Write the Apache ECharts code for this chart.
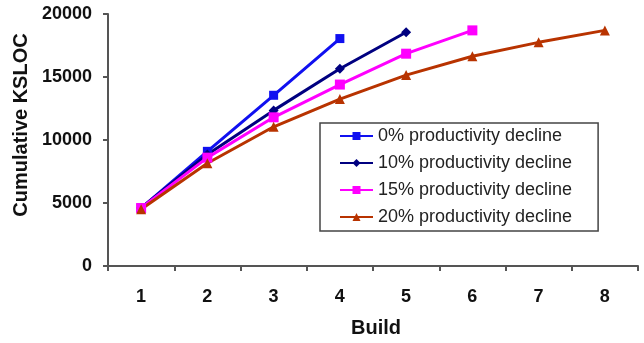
<!DOCTYPE html>
<html>
<head>
<meta charset="utf-8">
<script src="https://cdn.jsdelivr.net/npm/echarts@6/dist/echarts.min.js"></script>
<style>
html,body{margin:0;padding:0;background:#fff;}
#c{width:644px;height:343px;}
</style>
</head>
<body>
<div id="c"></div>
<script>
var builds = ['1','2','3','4','5','6','7','8'];
var seriesNames = ['0% productivity decline','10% productivity decline','15% productivity decline','20% productivity decline'];
var decline0 = [4600, 9100, 13550, 18050];
var decline10 = [4600, 8850, 12350, 15650, 18550];
var decline15 = [4600, 8600, 11800, 14400, 16850, 18700];
var decline20 = [4500, 8150, 11050, 13250, 15150, 16650, 17750, 18700];
var yTicks = [0, 5000, 10000, 15000, 20000];

var colors = ['#1010F0', '#000080', '#FF00FF', '#B83300'];
var symbols = ['rect', 'diamond', 'rect', 'triangle'];
var symbolSizes = [9, 10, 10, 10];
var dataSets = [decline0, decline10, decline15, decline20];

var chart = echarts.init(document.getElementById('c'), null, {renderer: 'canvas'});
var font = 'Liberation Sans, Arial, sans-serif';
var series = seriesNames.map(function (n, i) {
  return {
    name: n,
    type: 'line',
    data: dataSets[i],
    symbol: symbols[i],
    symbolSize: symbolSizes[i],
    showAllSymbol: true,
    lineStyle: {color: colors[i], width: 3},
    itemStyle: {color: colors[i]},
    animation: false
  };
});

chart.setOption({
  animation: false,
  backgroundColor: '#fff',
  grid: {left: 108, right: 6, top: 14, bottom: 75},
  legend: {
    orient: 'vertical',
    left: 320,
    top: 123,
    padding: [4, 26, 5, 19],
    itemGap: 9,
    itemWidth: 33,
    itemHeight: 10,
    borderColor: '#444',
    borderWidth: 1.5,
    backgroundColor: '#fff',
    textStyle: {fontFamily: font, fontSize: 18, color: '#222'},
    data: seriesNames
  },
  xAxis: {
    type: 'category',
    data: builds,
    boundaryGap: true,
    name: 'Build',
    nameLocation: 'middle',
    nameGap: 52,
    nameTextStyle: {fontFamily: font, fontSize: 20, fontWeight: 'bold', color: '#111', padding: [0, 0, 0, 6]},
    axisLine: {lineStyle: {color: '#555', width: 2}},
    axisTick: {show: true, length: 5, inside: false, lineStyle: {color: '#555', width: 2}},
    axisLabel: {fontFamily: font, fontSize: 18, fontWeight: 'bold', color: '#111', margin: 22},
    splitLine: {show: false}
  },
  yAxis: {
    type: 'value',
    min: yTicks[0],
    max: yTicks[yTicks.length - 1],
    interval: yTicks[1] - yTicks[0],
    name: 'Cumulative KSLOC',
    nameLocation: 'middle',
    nameGap: 73,
    nameTextStyle: {fontFamily: font, fontSize: 20, fontWeight: 'bold', color: '#111', padding: [0, 0, 0, 30]},
    axisLine: {show: true, lineStyle: {color: '#555', width: 2}},
    axisTick: {show: true, length: 5, lineStyle: {color: '#555', width: 2}},
    axisLabel: {fontFamily: font, fontSize: 18, fontWeight: 'bold', color: '#111', margin: 16,
      formatter: function (v) { return String(v); }},
    splitLine: {show: false}
  },
  series: series
});
</script>
</body>
</html>
